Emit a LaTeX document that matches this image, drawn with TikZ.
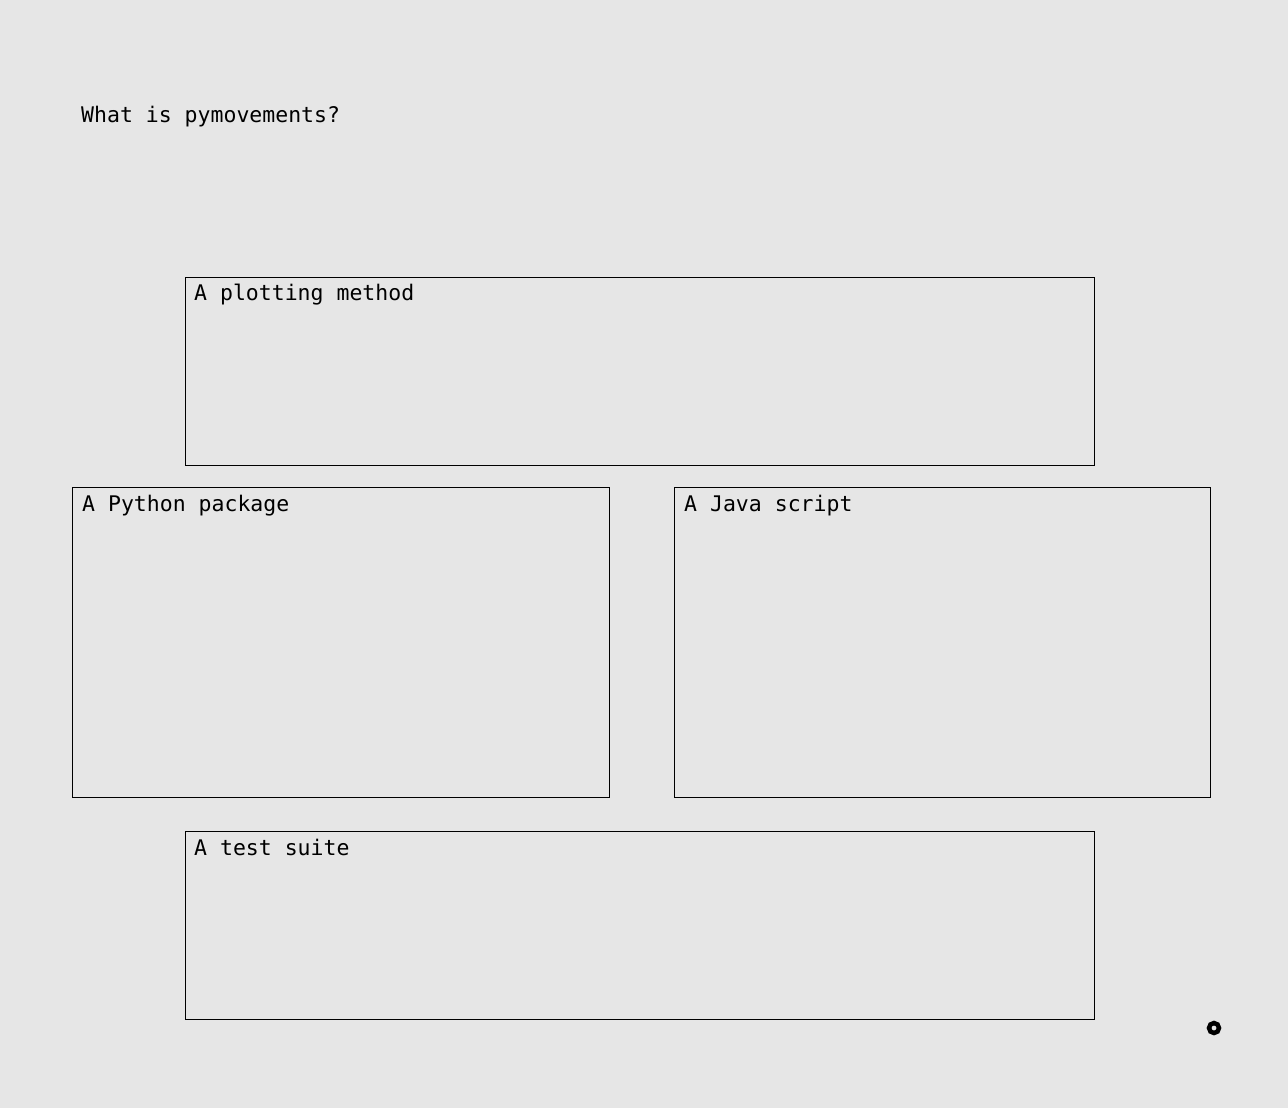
\documentclass[tikz,border=0pt]{standalone}
\usepackage{fontspec}
\setmonofont{DejaVu Sans Mono}
\definecolor{bg}{HTML}{E6E6E6}
\begin{document}
\begin{tikzpicture}[x=1pt,y=-1pt,
  lbl/.style={anchor=base west,inner sep=0pt,font=\ttfamily\fontsize{21.5}{24}\selectfont,text=black},
  panel/.style={draw=black,line width=1pt,anchor=north west,inner sep=0pt,rectangle}]
\fill[bg] (0,0) rectangle (1288,1108);
\useasboundingbox (0,0) rectangle (1288,1108);
\node[lbl] (title) at (81,122) {What is pymovements?};
\node[panel,minimum width=909pt,minimum height=188pt] (plot) at (185,277) {};
\node[panel,minimum width=537pt,minimum height=310pt] (py) at (72,487) {};
\node[panel,minimum width=536pt,minimum height=310pt] (js) at (674,487) {};
\node[panel,minimum width=909pt,minimum height=188pt] (test) at (185,831) {};
\node[lbl] (plotlbl) at (194,300) {A plotting method};
\node[lbl] (pylbl) at (82,511) {A Python package};
\node[lbl] (jslbl) at (684,511) {A Java script};
\node[lbl] (testlbl) at (194,855) {A test suite};
\node[circle,draw=black,line width=4.5pt,minimum size=10pt,inner sep=0pt] (dot) at (1214,1028) {};
\end{tikzpicture}
\end{document}
